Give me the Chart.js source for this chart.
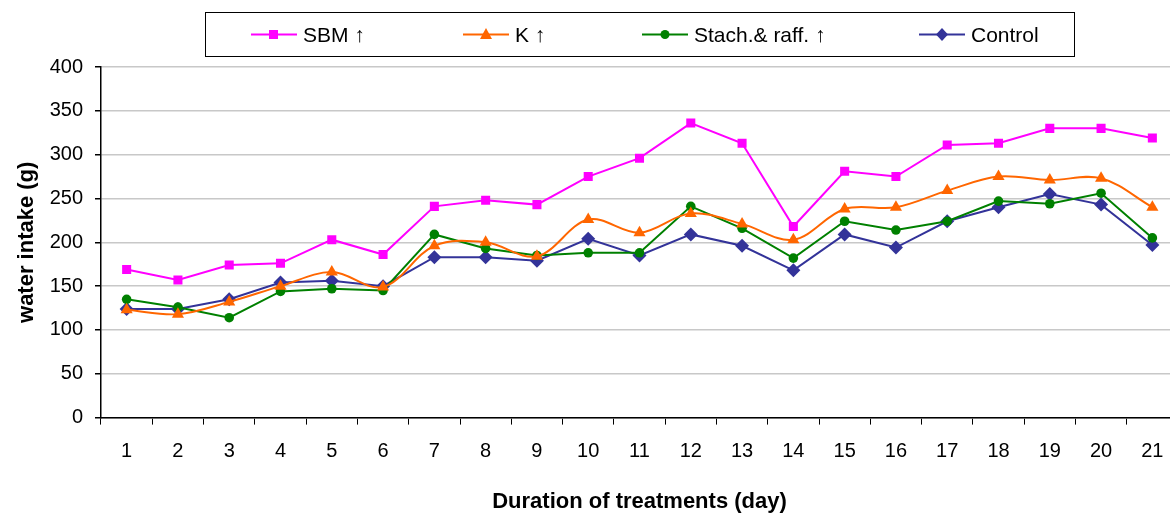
<!DOCTYPE html>
<html>
<head>
<meta charset="utf-8">
<script src="https://cdn.jsdelivr.net/npm/chart.js@4.4.0/dist/chart.umd.min.js"></script>
<style>
  html, body { margin: 0; padding: 0; background: #fff; overflow: hidden; }
  #wrap { position: relative; width: 1185px; height: 516px; }
  #legend {
    position: absolute; left: 205px; top: 12px; width: 870px; height: 45px;
    border: 1px solid #000; box-sizing: border-box;
    font-family: "Liberation Sans", Arial, sans-serif; font-size: 21px; color: #000;
  }
  .item { position: absolute; top: 0; height: 43px; display: flex; align-items: center; white-space: nowrap; }
  .item svg { margin-right: 6px; }
</style>
</head>
<body>
<div id="wrap">
  <canvas id="grafico" width="1185" height="516"></canvas>
  <div id="legend"></div>
</div>
<script>
const dias = ["1","2","3","4","5","6","7","8","9","10","11","12","13","14","15","16","17","18","19","20","21"];
const sbm     = [169,157,174,176,203,186,241,248,243,275,296,336,313,218,281,275,311,313,330,330,319];
const potasio = [123,118,132,150,166,149,196,200,184,226,211,233,221,203,238,240,259,275,271,273,240];
const stach   = [135,126,114,144,147,145,209,193,185,188,188,241,216,182,224,214,224,247,244,256,205];
const control = [124,124,135,154,156,150,183,183,179,204,185,209,196,168,209,194,224,240,255,243,197];
const yTicks = [0,50,100,150,200,250,300,350,400];

const series = [
  { label: "SBM \u2191", data: sbm, color: "#ff00ff", punto: "rect", r: 6.4, tension: 0, left: 45 },
  { label: "K \u2191", data: potasio, color: "#ff6600", punto: "triangle", r: 7, tension: 0.35, left: 257 },
  { label: "Stach.& raff. \u2191", data: stach, color: "#008000", punto: "circle", r: 4.8, tension: 0, left: 436 },
  { label: "Control", data: control, color: "#333399", punto: "rectRot", r: 7, tension: 0, left: 713 }
];

// leyenda con icono de linea + marcador
const legend = document.getElementById("legend");
function icono(s) {
  let m = "";
  const c = s.color;
  if (s.punto === "rect") m = `<rect x="18" y="2" width="9" height="9" fill="${c}"/>`;
  if (s.punto === "triangle") m = `<polygon points="23,0 29,11 17,11" fill="${c}"/>`;
  if (s.punto === "circle") m = `<circle cx="23" cy="6.5" r="4.5" fill="${c}"/>`;
  if (s.punto === "rectRot") m = `<polygon points="23,0 29,6.5 23,13 17,6.5" fill="${c}"/>`;
  return `<svg width="46" height="13"><line x1="0" y1="6.5" x2="46" y2="6.5" stroke="${c}" stroke-width="2"/>${m}</svg>`;
}
series.forEach(s => {
  const d = document.createElement("div");
  d.className = "item";
  d.style.left = s.left + "px";
  d.innerHTML = icono(s) + `<span>${s.label}</span>`;
  legend.appendChild(d);
});

const ctx = document.getElementById("grafico").getContext("2d");
const fuente = "'Liberation Sans', Arial, sans-serif";
let grafico = new Chart(ctx, {
  type: "line",
  data: {
    labels: dias,
    datasets: series.map(s => ({
      label: s.label,
      data: s.data,
      borderColor: s.color,
      backgroundColor: s.color,
      borderWidth: 2,
      pointStyle: s.punto,
      pointRadius: s.r,
      pointHoverRadius: s.r,
      pointBorderWidth: 0,
      tension: s.tension,
      fill: false
    }))
  },
  options: {
    responsive: false,
    animation: false,
    events: [],
    layout: { padding: { top: 67, right: 4, left: 0, bottom: 0 } },
    plugins: { legend: { display: false }, tooltip: { enabled: false } },
    scales: {
      x: {
        offset: true,
        grid: { drawOnChartArea: false, offset: true, tickLength: 7, color: "#000", tickWidth: 1 },
        border: { color: "#000", width: 1.5 },
        ticks: { color: "#000", padding: 15, maxRotation: 0, autoSkip: false, font: { family: fuente, size: 20 } },
        title: { display: true, text: "Duration of treatments (day)", color: "#000", padding: { top: 10, bottom: 1 }, font: { family: fuente, size: 22, weight: "bold" } }
      },
      y: {
        min: 0,
        max: 400,
        afterBuildTicks: (scale) => { scale.ticks = yTicks.map(v => ({ value: v })); },
        afterFit: (scale) => { scale.width = 101; },
        grid: { color: "#c8c8c8", tickColor: "#000", tickLength: 6, lineWidth: 1.5 },
        border: { color: "#000", width: 1.5 },
        ticks: { color: "#000", padding: 12, font: { family: fuente, size: 20 } },
        title: { display: true, text: "water intake (g)", color: "#000", padding: { top: 14, bottom: 0 }, font: { family: fuente, size: 22, weight: "bold" } }
      }
    }
  }
});
</script>
</body>
</html>
